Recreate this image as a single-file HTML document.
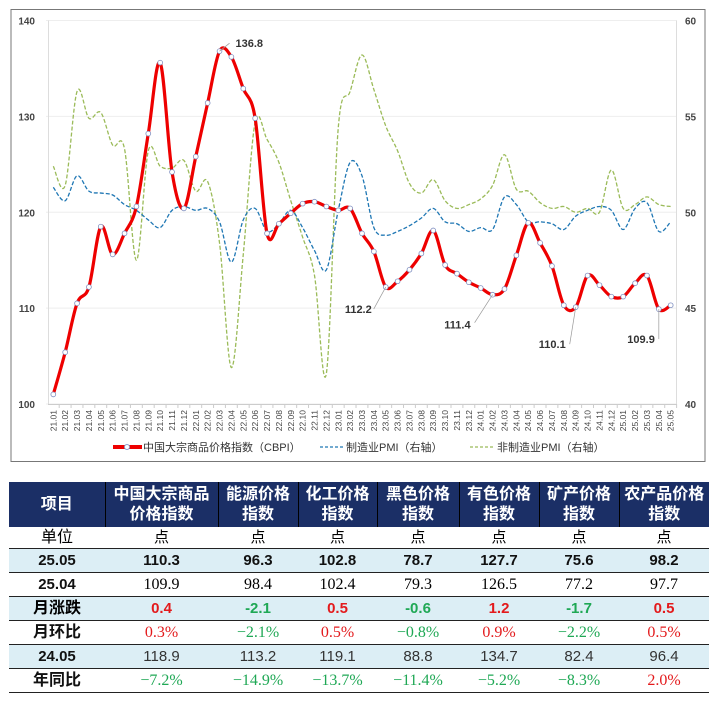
<!DOCTYPE html>
<html><head><meta charset="utf-8"><style>
body{margin:0;background:#fff;width:719px;height:706px;overflow:hidden;font-family:"Liberation Sans","Noto Sans CJK SC",sans-serif}
#chart{position:absolute;left:0;top:0}
table{position:absolute;left:9px;top:482px;border-collapse:collapse;table-layout:fixed;width:700px}
td,th{padding:0;text-align:center;font-size:15px;white-space:nowrap}
th{background:#1b2f66;color:#fff;font-weight:bold;font-size:16px;line-height:20px;height:45px;border-left:1px solid #000}
th:first-child{border-left:none}
tr.b td{background:#dceef5}
tr td{border-bottom:1.5px solid #222;height:23px;line-height:20px}
tr.u td{height:21px}
.bd{font-weight:bold;color:#111}
.r{color:#e31a1c}.g{color:#1fa855}
.m{font-family:"Liberation Serif","Noto Serif CJK SC",serif;font-size:16px}
</style></head><body>
<svg id="chart" width="719" height="470">
<rect x="11" y="9.5" width="694" height="452" fill="#fff" stroke="#777" stroke-width="1"/>
<g id="grid"></g><g id="axes"></g><g id="series"></g><g id="ann"></g>
<g id="legend" font-size="11" fill="#333">
<g><line x1="113" y1="447" x2="142" y2="447" stroke="#e00" stroke-width="4"/><circle cx="127" cy="447" r="2.5" fill="#fff" stroke="#8aa0d0"/><text x="143" y="451">中国大宗商品价格指数（CBPI）</text></g>
<g><line x1="320" y1="447" x2="345" y2="447" stroke="#1f77b4" stroke-dasharray="3,2" stroke-width="1.2"/><text x="346" y="451">制造业PMI（右轴）</text></g>
<g><line x1="470" y1="447" x2="495" y2="447" stroke="#9bbb59" stroke-dasharray="3,2" stroke-width="1.2"/><text x="497" y="451">非制造业PMI（右轴）</text></g>
</g>
</svg>
<script>
const months=["21.01","21.02","21.03","21.04","21.05","21.06","21.07","21.08","21.09","21.10","21.11","21.12","22.01","22.02","22.03","22.04","22.05","22.06","22.07","22.08","22.09","22.10","22.11","22.12","23.01","23.02","23.03","23.04","23.05","23.06","23.07","23.08","23.09","23.10","23.11","23.12","24.01","24.02","24.03","24.04","24.05","24.06","24.07","24.08","24.09","24.10","24.11","24.12","25.01","25.02","25.03","25.04","25.05"];
const cbpi=[101.0,105.4,110.5,112.2,118.5,115.6,117.8,120.6,128.2,135.6,124.2,120.4,125.8,131.4,136.8,136.2,132.9,129.8,117.8,118.8,119.9,120.9,121.1,120.6,120.2,120.4,117.8,115.9,112.2,112.8,114.0,115.7,118.1,114.5,113.6,112.7,112.1,111.4,112.0,115.5,118.9,116.8,114.4,110.3,110.1,113.4,112.4,111.2,111.2,112.6,113.4,109.9,110.3];
const pmi=[51.3,50.6,51.9,51.1,51.0,50.9,50.4,50.1,49.6,49.2,50.1,50.3,50.1,50.2,49.5,47.4,49.6,50.2,49.0,49.4,50.1,49.2,48.0,47.0,50.1,52.6,51.9,49.2,48.8,49.0,49.3,49.7,50.2,49.5,49.4,49.0,49.2,49.1,50.8,50.4,49.5,49.5,49.4,49.1,49.8,50.1,50.3,50.1,49.1,50.2,50.5,49.0,49.5];
const nmpmi=[52.4,51.4,56.3,54.9,55.2,53.5,53.3,47.5,53.2,52.4,52.3,52.7,51.1,51.6,48.4,41.9,47.8,54.7,53.8,52.6,50.6,48.7,46.7,41.6,54.4,56.3,58.2,56.4,54.5,53.2,51.5,51.0,51.7,50.6,50.2,50.4,50.7,51.4,53.0,51.2,51.1,50.5,50.2,50.3,50.0,50.2,50.0,52.2,50.2,50.4,50.8,50.4,50.3];
const leftTicks=[100,110,120,130,140];
const rightTicks=[40,45,50,55,60];
const labelIdx=[14,28,37,44,51];
const NS="http://www.w3.org/2000/svg";
const X0=53.3,X1=670.7,Y0=404,Y1=20.5;
const xs=i=>X0+(X1-X0)*i/(months.length-1);
const yl=v=>Y0-(v-100)/40*(Y0-Y1);
const yr=v=>Y0-(v-40)/20*(Y0-Y1);
function mk(tag,attrs,parent){const e=document.createElementNS(NS,tag);for(const k in attrs)e.setAttribute(k,attrs[k]);parent.appendChild(e);return e;}
const grid=document.getElementById('grid'),axes=document.getElementById('axes'),ser=document.getElementById('series'),ann=document.getElementById('ann');
leftTicks.forEach(t=>{const y=yl(t);
const l=mk('line',{x1:46,x2:X1+6,y1:y,y2:y,stroke:'#eee'},grid);


const tx=mk('text',{x:35,y:y+4,'text-anchor':'end','font-size':10,fill:'#444','font-weight':'bold'},axes);tx.textContent=t;

});
rightTicks.forEach(t=>{const y=yr(t);
const tx=mk('text',{x:685,y:y+4,'font-size':10,fill:'#444','font-weight':'bold'},axes);tx.textContent=t;

});
mk('line',{x1:48.5,x2:48.5,y1:Y1,y2:Y0,stroke:'#ddd'},axes);
mk('line',{x1:676.5,x2:676.5,y1:Y1,y2:Y0,stroke:'#ddd'},axes);
mk('line',{x1:48,x2:677,y1:Y0+0.5,y2:Y0+0.5,stroke:'#ccc'},axes);
months.forEach((m,i)=>{const x=xs(i);
mk('line',{x1:x+5.9,x2:x+5.9,y1:Y0,y2:Y0+4,stroke:'#ccc'},axes);
const tx=mk('text',{x:0,y:0,'font-size':8.5,fill:'#444','text-anchor':'end',transform:`translate(${x+3},${Y0+6}) rotate(-90)`},axes);tx.textContent=m;

});
function smooth(pts){let d=`M${pts[0][0]},${pts[0][1]}`;for(let i=0;i<pts.length-1;i++){const p0=pts[Math.max(0,i-1)],p1=pts[i],p2=pts[i+1],p3=pts[Math.min(pts.length-1,i+2)];const t=1/6;d+=` C${p1[0]+(p2[0]-p0[0])*t},${p1[1]+(p2[1]-p0[1])*t} ${p2[0]-(p3[0]-p1[0])*t},${p2[1]-(p3[1]-p1[1])*t} ${p2[0]},${p2[1]}`;}return d;}
const g=mk('path',{d:smooth(nmpmi.map((v,i)=>[xs(i),yr(v)])),fill:'none',stroke:'#9bbb59','stroke-width':1.3,'stroke-dasharray':'4,2'},ser);


const b=mk('path',{d:smooth(pmi.map((v,i)=>[xs(i),yr(v)])),fill:'none',stroke:'#1f77b4','stroke-width':1.3,'stroke-dasharray':'4,2'},ser);


const r=mk('path',{d:smooth(cbpi.map((v,i)=>[xs(i),yl(v)])),fill:'none',stroke:'#e00','stroke-width':3.2},ser);


cbpi.forEach((v,i)=>{const c=mk('circle',{cx:xs(i),cy:yl(v),r:2.4,fill:'#fff',stroke:'#7f8fc0','stroke-width':0.8},ser);

});
const offs={14:[[10,-8],[14,-8]],28:[[-12,22],[-14,22]],37:[[-18,28],[-22,30]],44:[[-6,37],[-10,37]],51:[[0,30],[-4,30]]};
labelIdx.forEach(i=>{const x=xs(i),y=yl(cbpi[i]);const [a,t]=offs[i];
mk('line',{x1:x,y1:y,x2:x+a[0],y2:y+a[1],stroke:'#999','stroke-width':0.7},ann);
const right=a[0]>0;
const tx=mk('text',{x:x+t[0]+(right?2:0),y:y+t[1]+4,'font-size':11,'font-weight':'bold',fill:'#333','text-anchor':right?'start':'end'},ann);tx.textContent=cbpi[i].toFixed(1);

});
</script>
<table>
<colgroup><col style="width:96px"><col style="width:113px"><col style="width:80px"><col style="width:79px"><col style="width:82px"><col style="width:80px"><col style="width:80px"><col style="width:90px"></colgroup>
<tr><th>项目</th><th>中国大宗商品<br>价格指数</th><th>能源价格<br>指数</th><th>化工价格<br>指数</th><th>黑色价格<br>指数</th><th>有色价格<br>指数</th><th>矿产价格<br>指数</th><th>农产品价格<br>指数</th></tr>
<tr class="u" style="font-size:15px"><td style="font-size:16px">单位</td><td>点</td><td>点</td><td>点</td><td>点</td><td>点</td><td>点</td><td>点</td></tr>
<tr class="b bd"><td>25.05</td><td>110.3</td><td>96.3</td><td>102.8</td><td>78.7</td><td>127.7</td><td>75.6</td><td>98.2</td></tr>
<tr><td class="bd">25.04</td><td class="m">109.9</td><td class="m">98.4</td><td class="m">102.4</td><td class="m">79.3</td><td class="m">126.5</td><td class="m">77.2</td><td class="m">97.7</td></tr>
<tr class="b" style="font-weight:bold"><td style="font-size:16px">月涨跌</td><td class="r">0.4</td><td class="g">-2.1</td><td class="r">0.5</td><td class="g">-0.6</td><td class="r">1.2</td><td class="g">-1.7</td><td class="r">0.5</td></tr>
<tr><td class="bd" style="font-size:16px">月环比</td><td class="m r">0.3%</td><td class="m g">−2.1%</td><td class="m r">0.5%</td><td class="m g">−0.8%</td><td class="m r">0.9%</td><td class="m g">−2.2%</td><td class="m r">0.5%</td></tr>
<tr class="b" style="color:#333"><td class="bd">24.05</td><td>118.9</td><td>113.2</td><td>119.1</td><td>88.8</td><td>134.7</td><td>82.4</td><td>96.4</td></tr>
<tr><td class="bd" style="font-size:16px">年同比</td><td class="m g">−7.2%</td><td class="m g">−14.9%</td><td class="m g">−13.7%</td><td class="m g">−11.4%</td><td class="m g">−5.2%</td><td class="m g">−8.3%</td><td class="m r">2.0%</td></tr>
</table>
</body></html>
